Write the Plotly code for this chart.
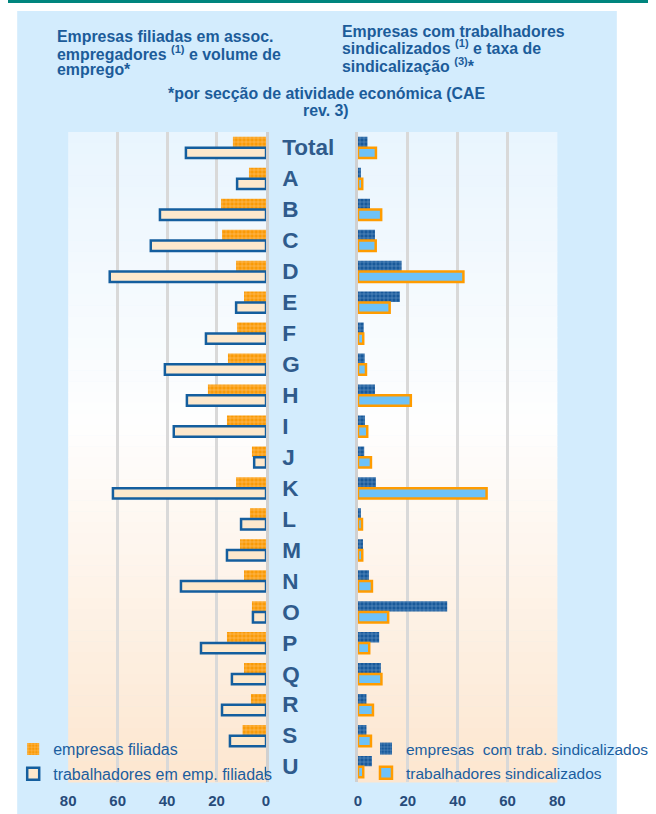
import plotly.graph_objects as go

# ---------------- data ----------------
categories = ["Total", "A", "B", "C", "D", "E", "F", "G", "H", "I", "J", "K",
              "L", "M", "N", "O", "P", "Q", "R", "S", "U"]

empresas_filiadas = [13.4, 6.9, 18.2, 17.8, 12.1, 8.9, 11.7, 15.4, 23.5, 15.8, 5.7,
                     12.1, 6.5, 10.5, 8.9, 5.7, 15.8, 8.9, 6.1, 9.5, 0]
trab_emp_filiadas = [32.4, 11.7, 42.9, 46.6, 63.2, 12.1, 24.3, 40.9, 32.0, 37.3, 4.8,
                     61.9, 10.1, 15.8, 34.4, 5.3, 26.3, 13.8, 17.8, 14.6, 0]

empresas_trab_sind = [3.8, 1.2, 4.8, 6.8, 17.5, 16.8, 2.3, 2.7, 6.8, 2.8, 2.5, 7.2,
                      1.2, 2.0, 4.4, 35.8, 8.5, 9.2, 3.4, 3.4, 5.6]
trab_sindicalizados = [7.2, 1.7, 9.3, 7.1, 42.3, 12.7, 2.1, 3.2, 21.2, 3.7, 5.2, 51.6,
                       1.6, 1.7, 5.6, 12.1, 4.5, 9.4, 6.0, 5.2, 2.1]

tick_vals = [0, 20, 40, 60, 80]
tick_text = ["0", "20", "40", "60", "80"]

title_left = ["Empresas filiadas em assoc.",
              "empregadores <sup>(1)</sup> e volume de",
              "emprego*"]
title_right = ["Empresas com trabalhadores",
               "sindicalizados <sup>(1)</sup> e taxa de",
               "sindicalização <sup>(3)</sup>*"]
title_center = ["*por secção de atividade económica (CAE", "rev. 3)"]

legend_names = ["empresas filiadas", "trabalhadores em emp. filiadas",
                "empresas  com trab. sindicalizados", "trabalhadores sindicalizados"]

# ---------------- style ----------------
W, H = 656, 814
# the page is photographed with an 8 px body margin and squeezed horizontally
SX_OFF = 7.8
SX_K = 672 / 656
FONT = "Liberation Sans, Arial, sans-serif"
TITLE_COL = "#1C5C9A"
CAT_COL = "#2F5B8C"
TICK_COL = "#274B7A"
GRID_COL = "#D9D9D9"

def px_x(p):
    return (p - SX_OFF) * SX_K / W

def px_y(p):
    return 1 - p / H

left_dom = [px_x(68), px_x(266)]
right_dom = [px_x(358), px_x(557.5)]
y_dom = [px_y(782), px_y(132)]

fig = go.Figure()

fig.add_trace(go.Bar(
    y=categories, x=empresas_filiadas, orientation="h", name=legend_names[0],
    xaxis="x", yaxis="y", legend="legend", legendgroup="a",
    marker=dict(color="#FA9B0C", line=dict(width=0),
                pattern=dict(shape="+", bgcolor="#F99A06", fgcolor="#FFC77A",
                             size=4, solidity=0.25, fillmode="replace")),
))
fig.add_trace(go.Bar(
    y=categories, x=trab_emp_filiadas, orientation="h", name=legend_names[1],
    xaxis="x", yaxis="y", legend="legend", legendgroup="b",
    marker=dict(color="#FDE8CC", line=dict(color="#145E9E", width=2.5)),
))
fig.add_trace(go.Bar(
    y=categories, x=empresas_trab_sind, orientation="h", name=legend_names[2],
    xaxis="x2", yaxis="y2", legend="legend2", legendgroup="c",
    marker=dict(color="#18599A", line=dict(width=0),
                pattern=dict(shape="+", bgcolor="#18599A", fgcolor="#6C9BCB",
                             size=4, solidity=0.25, fillmode="replace")),
))
fig.add_trace(go.Bar(
    y=categories, x=trab_sindicalizados, orientation="h", name=legend_names[3],
    xaxis="x2", yaxis="y2", legend="legend2", legendgroup="d",
    marker=dict(color="#6EC2F8", line=dict(color="#FF9C00", width=2.5)),
))

# ---------------- background shapes ----------------
shapes = []
shapes.append(dict(type="rect", xref="paper", yref="paper", x0=px_x(17), x1=px_x(617),
                   y0=0, y1=px_y(11), fillcolor="#D3ECFD", line=dict(width=0), layer="below"))
shapes.append(dict(type="rect", xref="paper", yref="paper", x0=0, x1=1,
                   y0=px_y(3), y1=1, fillcolor="#00857E", line=dict(width=0), layer="below"))

stops = [(0.0, (233, 245, 254)), (0.45, (254, 254, 254)), (1.0, (253, 230, 207))]

def grad(t):
    for (t0, c0), (t1, c1) in zip(stops[:-1], stops[1:]):
        if t0 <= t <= t1:
            f = (t - t0) / (t1 - t0)
            return "rgb(%d,%d,%d)" % tuple(round(a + (b - a) * f) for a, b in zip(c0, c1))
    return "rgb(%d,%d,%d)" % stops[-1][1]

N = 60
top_px, bot_px = 132, 782
for dom in (left_dom, right_dom):
    for i in range(N):
        a = top_px + (bot_px - top_px) * i / N
        b = top_px + (bot_px - top_px) * (i + 1) / N
        shapes.append(dict(type="rect", xref="paper", yref="paper",
                           x0=dom[0], x1=dom[1], y0=px_y(b + 0.5), y1=px_y(a),
                           fillcolor=grad((i + 0.5) / N), line=dict(width=0), layer="below"))

# ---------------- titles ----------------
annotations = []
def add_lines(lines, x, baselines, anchor="left"):
    for t, b in zip(lines, baselines):
        annotations.append(dict(text=t, xref="paper", yref="paper", x=px_x(x),
                                y=px_y(b + 5), xanchor=anchor, yanchor="bottom",
                                showarrow=False, align=anchor,
                                font=dict(family=FONT, size=15.9, color=TITLE_COL, weight="bold")))

add_lines(title_left, 55, [42.5, 60.3, 75])
add_lines(title_right, 340, [37, 54, 72])
add_lines(title_center, 326, [99, 116], anchor="center")

axis_common = dict(showgrid=True, gridcolor=GRID_COL, gridwidth=2.5, zeroline=False,
                   tickvals=tick_vals, ticktext=tick_text, ticks="", showline=False,
                   tickfont=dict(family=FONT, size=15, color=TICK_COL, weight="bold"),
                   ticklabelstandoff=8, fixedrange=True)

fig.update_layout(
    width=W, height=H, autosize=False,
    margin=dict(l=0, r=0, t=0, b=0),
    paper_bgcolor="white", plot_bgcolor="rgba(0,0,0,0)",
    barmode="group", bargap=0.3, bargroupgap=0.04,
    shapes=shapes, annotations=annotations,
    xaxis=dict(domain=left_dom, anchor="y", range=[80, 0], **axis_common),
    xaxis2=dict(domain=right_dom, anchor="y2", range=[0, 80], **axis_common),
    yaxis=dict(domain=y_dom, anchor="x", side="right", autorange="reversed",
               categoryorder="array", categoryarray=categories,
               showline=True, linecolor="#D0D0D0", linewidth=2.5, ticks="",
               showgrid=False, ticklabelstandoff=9, fixedrange=True,
               tickfont=dict(family=FONT, size=22.5, color=CAT_COL, weight="bold")),
    yaxis2=dict(domain=y_dom, anchor="x2", matches="y", autorange="reversed",
                showticklabels=False, showline=True, linecolor="#D0D0D0", linewidth=2.5,
                ticks="", showgrid=False, fixedrange=True),
    legend=dict(x=px_x(13), y=px_y(732), xanchor="left", yanchor="top",
                bgcolor="rgba(0,0,0,0)", tracegroupgap=1,
                font=dict(family=FONT, size=16, color="#1B5E9F")),
    legend2=dict(x=px_x(366), y=px_y(732), xanchor="left", yanchor="top",
                 bgcolor="rgba(0,0,0,0)", tracegroupgap=1,
                 font=dict(family=FONT, size=15.5, color="#1B5E9F")),
    showlegend=True,
)

fig.write_html("out.html",
               config={"displayModeBar": False, "responsive": False},
               post_script="document.body.style.margin='0';")
